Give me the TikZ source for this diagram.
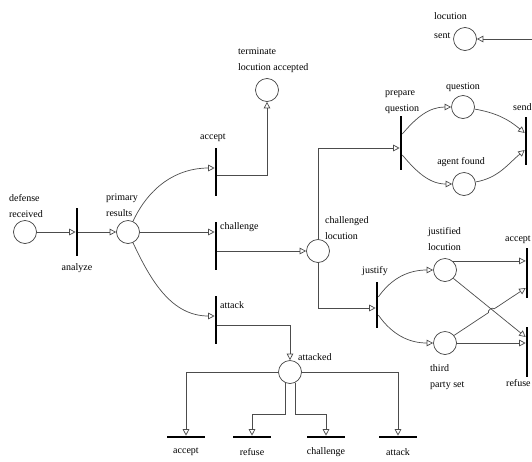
\documentclass[tikz,border=0pt]{standalone}
\usepackage{fontspec}
\setmainfont{Liberation Serif}
\usetikzlibrary{arrows.meta,calc}

\begin{document}
\begin{tikzpicture}[
    x=1pt,y=-1pt,
    place/.style={draw=black!75,circle,line width=0.7pt,minimum size=23pt,inner sep=0pt},
    vtrans/.style={fill=black,minimum width=2.2pt,minimum height=48pt,inner sep=0pt},
    htrans/.style={fill=black,minimum width=38pt,minimum height=2.2pt,inner sep=0pt},
    arr/.style={-{Triangle[open,length=6.5pt,width=6.5pt]},draw=black!70,line width=0.7pt},
    lbl/.style={inner sep=0pt,align=left},
    font=\fontsize{10}{16}\selectfont
  ]
  \useasboundingbox (0,0) rectangle (532,461);

  %% ── Places ────────────────────────────────────────────────────────────────
  \node[place] (defrec)  at (25,232)  {};
  \node[place] (prim)    at (128,232) {};
  \node[place] (term)    at (267,90)  {};
  \node[place] (chloc)   at (318,251) {};
  \node[place] (att)     at (290,372) {};
  \node[place] (quest)   at (463,107) {};
  \node[place] (agent)   at (464,184) {};
  \node[place] (locsent) at (465,39)  {};
  \node[place] (justloc) at (445,270) {};
  \node[place] (third)   at (445,343) {};

  %% ── Transitions ───────────────────────────────────────────────────────────
  \node[vtrans] (analyze) at (77,232)  {};
  \node[vtrans] (acc)     at (216,172) {};
  \node[vtrans] (chal)    at (216,246) {};
  \node[vtrans] (atk)     at (216,320) {};
  \node[vtrans,minimum height=54pt] (prep)    at (401,143) {};
  \node[vtrans] (send)    at (526,141) {};
  \node[vtrans,minimum height=46pt] (justify) at (377,305) {};
  \node[vtrans,minimum height=50pt] (acc2)    at (527,273) {};
  \node[vtrans,minimum height=50pt] (ref2)    at (527,352) {};
  \node[htrans] (bacc)  at (186,437) {};
  \node[htrans] (bref)  at (252,437) {};
  \node[htrans] (bchal) at (326,437) {};
  \node[htrans] (batk)  at (398,437) {};

  %% ── Labels ────────────────────────────────────────────────────────────────
  \node[lbl] (t-defrec)  at (26,206)  {defense\\received};
  \node[lbl] (t-analyze) at (77,268)  {analyze};
  \node[lbl] (t-prim)    at (122,205) {primary\\results};
  \node[lbl,anchor=west] (t-term)  at (238,60)  {terminate\\locution accepted};
  \node[lbl] (t-acc)     at (213,138) {accept};
  \node[lbl,anchor=west] (t-chal)  at (220,227) {challenge};
  \node[lbl,anchor=west] (t-atk)   at (220,305) {attack};
  \node[lbl,anchor=west] (t-chloc) at (325,228) {challenged\\locution};
  \node[lbl,anchor=west] (t-att)   at (298,357) {attacked};
  \node[lbl] (t-bacc)    at (186,452) {accept};
  \node[lbl] (t-bref)    at (252,452) {refuse};
  \node[lbl] (t-bchal)   at (326,452) {challenge};
  \node[lbl] (t-batk)    at (398,452) {attack};
  \node[lbl,anchor=west] (t-prep)  at (385,102) {prepare\\question};
  \node[lbl] (t-quest)   at (463,87)  {question};
  \node[lbl] (t-agent)   at (461,162) {agent found};
  \node[lbl,anchor=west] (t-send)  at (513,107) {send};
  \node[lbl,anchor=west] (t-locsent) at (434,26) {locution\\[3pt]sent};
  \node[lbl,anchor=west] (t-justloc) at (428,239) {justified\\locution};
  \node[lbl] (t-justify) at (375,271) {justify};
  \node[lbl,anchor=west] (t-third) at (430,377) {third\\party set};
  \node[lbl,anchor=west] (t-acc2)  at (505,240) {accept};
  \node[lbl,anchor=west] (t-ref2)  at (506,383) {refuse};

  %% ── Analysis of the defense ───────────────────────────────────────────────
  \draw[arr] (defrec) -- (analyze);
  \draw[arr] (analyze) -- (prim);
  \draw[arr] (prim) to[out=65,in=180] ([yshift=4pt]acc.west);
  \draw[arr] (prim) -- (prim -| chal.west);
  \draw[arr] (prim) to[out=-65,in=180] ([yshift=4pt]atk.west);
  \draw[arr] ([yshift=-3pt]acc.east) -| (term);
  \draw[arr] (chal.east |- chloc) -- (chloc);

  %% ── Challenged locution ───────────────────────────────────────────────────
  \draw[arr] (chloc) |- ([yshift=-5pt]prep.west);
  \draw[arr] (chloc) |- ([yshift=-3pt]justify.west);
  \draw[arr] ([yshift=9pt]prep.east) to[out=50,in=180] (quest);
  \draw[arr] ([yshift=-12pt]prep.east) to[out=-50,in=180] (agent);
  \draw[arr] (quest) to[out=-10,in=140] ([yshift=8pt]send.west);
  \draw[arr] (agent) to[out=10,in=-140] ([yshift=-9pt]send.west);
  \coordinate (sentin) at (545,39);
  \draw[arr] (sentin) -- (locsent);

  %% ── Justification ─────────────────────────────────────────────────────────
  \draw[arr] ([yshift=8pt]justify.east) to[out=55,in=180] (justloc);
  \draw[arr] ([yshift=-10pt]justify.east) to[out=-55,in=180] (third);
  \draw[arr] (justloc.50) -- (justloc.50 -| acc2.west);
  \draw[arr] (justloc.-45) -- ([yshift=15pt]ref2.west);
  \draw[arr] (third) -- (third -| ref2.west);
  \coordinate (a2in) at ([yshift=-15pt]acc2.west);
  \draw[arr] (third.40) -- ($(third.40)!0.48!(a2in)$)
      to[bend left=90] ($(third.40)!0.56!(a2in)$) -- (a2in);

  %% ── Attack ────────────────────────────────────────────────────────────────
  \draw[arr] ([yshift=-5pt]atk.east) -| (att);
  \draw[arr] (att) -| (bacc);
  \draw[arr] (att) -| (batk);
  \draw[arr] (att.-115) -- ++(0,32) -| (bref);
  \draw[arr] (att.-65) -- ++(0,32) -| (bchal);

\end{tikzpicture}
\end{document}
